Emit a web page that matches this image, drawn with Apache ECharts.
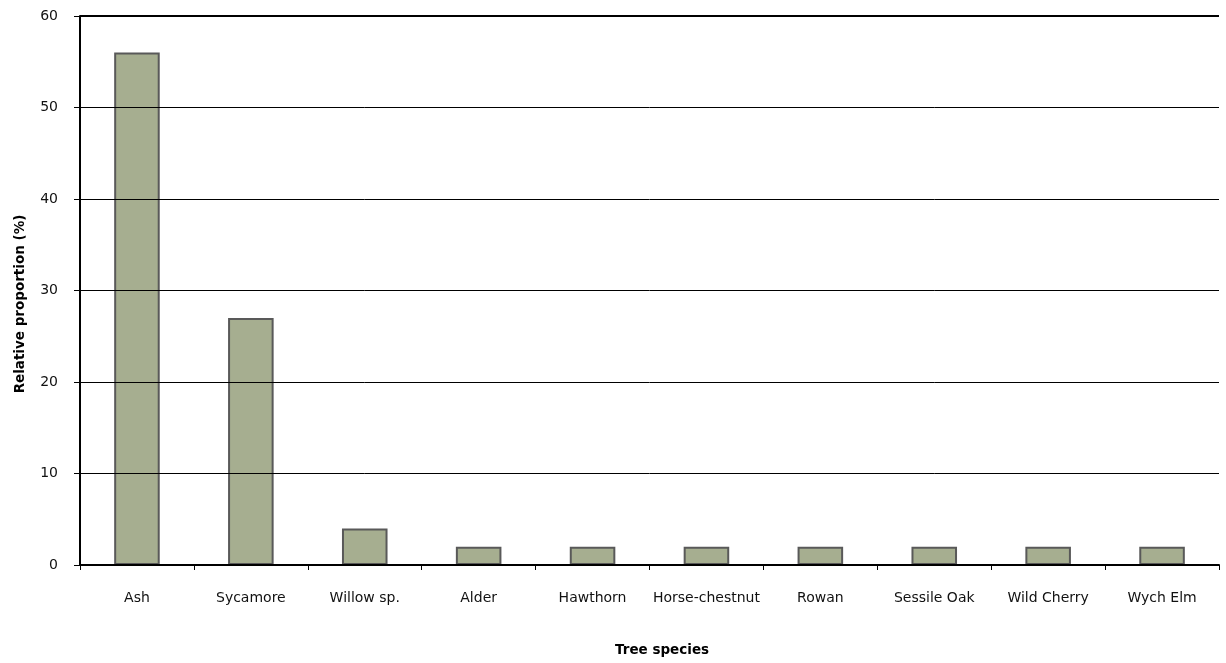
<!DOCTYPE html>
<html>
<head>
<meta charset="utf-8">
<script src="https://cdn.jsdelivr.net/npm/echarts@6/dist/echarts.min.js"></script>
<style>
  html, body { margin: 0; padding: 0; background: #ffffff; }
  #chart { width: 1226px; height: 663px; }
</style>
</head>
<body>
<div id="chart"></div>
<script>
// Tree species composition
const species = ['Ash', 'Sycamore', 'Willow sp.', 'Alder', 'Hawthorn', 'Horse-chestnut', 'Rowan', 'Sessile Oak', 'Wild Cherry', 'Wych Elm'];
const proportion = [56, 27, 4, 2, 2, 2, 2, 2, 2, 2];
const yTicks = [0, 10, 20, 30, 40, 50, 60];
const xTitle = 'Tree species';
const yTitle = 'Relative proportion (%)';

const FONT = 'DejaVu Sans, Liberation Sans, Arial, sans-serif';

const chart = echarts.init(document.getElementById('chart'));
chart.setOption({
  backgroundColor: '#ffffff',
  animation: false,
  textStyle: { fontFamily: FONT },
  grid: { left: 80, right: 7, top: 16, bottom: 98 },
  graphic: [
    {
      type: 'text',
      left: 665 - 50, top: 643,
      style: { text: xTitle, font: 'bold 13.5px ' + FONT, fill: '#000', width: 100, align: 'center' }
    },
    {
      type: 'text',
      x: 20, y: 304,
      rotation: Math.PI / 2,
      style: { text: yTitle, font: 'bold 13.5px ' + FONT, fill: '#000', align: 'center', verticalAlign: 'middle' }
    }
  ],
  xAxis: {
    type: 'category',
    data: species,
    axisLine: { lineStyle: { color: '#000', width: 2 } },
    axisTick: { show: true, length: 5, interval: 0, lineStyle: { color: '#000' } },
    axisLabel: { color: '#111', fontSize: 14, margin: 26, interval: 0 },
    z: 4
  },
  yAxis: {
    type: 'value',
    min: yTicks[0],
    max: yTicks[yTicks.length - 1],
    interval: 10,
    axisLine: { show: true, lineStyle: { color: '#000', width: 2 } },
    axisTick: { show: true, length: 6, lineStyle: { color: '#000' } },
    axisLabel: { color: '#111', fontSize: 14, margin: 22 },
    splitLine: { show: true, lineStyle: { color: '#000', width: 1 } },
    z: 4
  },
  series: [{
    type: 'bar',
    data: proportion,
    barWidth: '40%',
    itemStyle: { color: '#a6ae90', borderColor: '#595959', borderWidth: 2 },
    markLine: {
      silent: true,
      symbol: 'none',
      label: { show: false },
      lineStyle: { color: '#000', width: 2, type: 'solid' },
      data: [{ yAxis: yTicks[yTicks.length - 1] }]
    },
    z: 2
  }]
});
</script>
</body>
</html>
